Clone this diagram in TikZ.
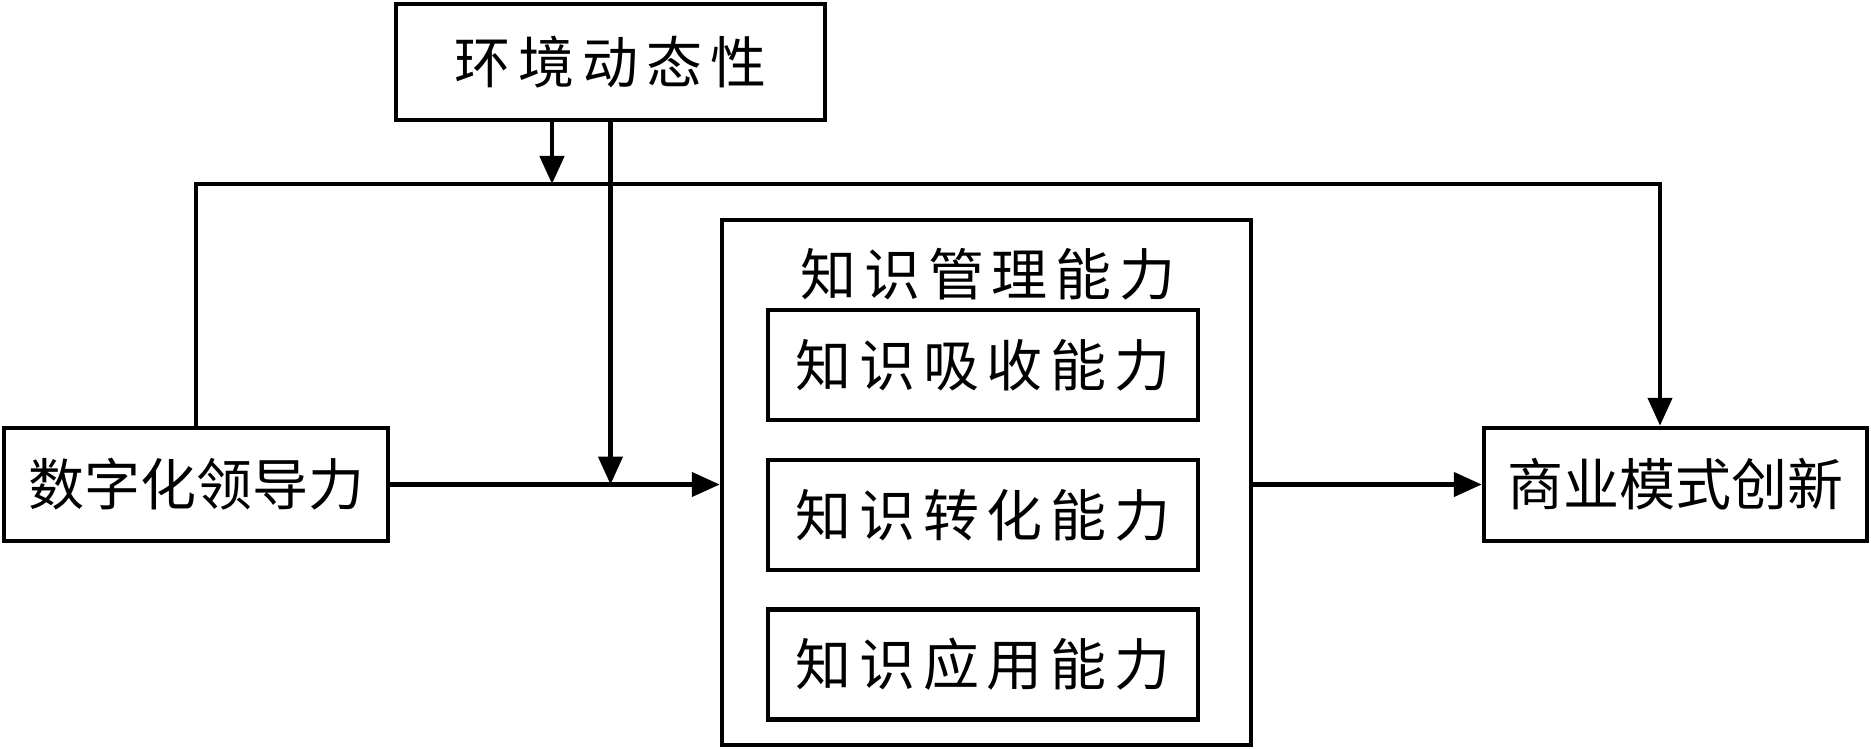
\documentclass[tikz,border=0pt]{standalone}
\usepackage{fontspec}
\newfontfamily\cjk{Noto Sans CJK SC}
\newfontfamily\cjkwide{Noto Sans CJK SC}[LetterSpace=14]
\usetikzlibrary{positioning}
\usetikzlibrary{arrows.meta}

\begin{document}
\begin{tikzpicture}
	[x=1pt,y=-1pt,
	box/.style={draw, line width=4.5pt, inner sep=0pt, minimum height=113pt, font=\cjk\fontsize{56}{62}\selectfont},
	wide/.style={box, font=\cjkwide\fontsize{56}{62}\selectfont},
	sub/.style={wide, minimum width=430pt, minimum height=110pt},
	link/.style={line width=4.5pt, -{Triangle[length=28pt,width=24pt]}}]

\useasboundingbox (0,0) rectangle (1871,749);

\node [wide, minimum width=429pt, minimum height=116pt] (env) at (610.5,62) {环境动态性};
\node [box, minimum width=384pt] (lead) at (196,484.5) {数字化领导力};
\node [box, minimum width=383pt] (biz) at (1675.5,484.5) {商业模式创新};

\node [draw, line width=4.5pt, minimum width=529pt, minimum height=525pt] (km) at (986.5,482.5) {};
\node [font=\cjkwide\fontsize{56}{62}\selectfont] (kmtitle) at (988,274) {知识管理能力};
\node [sub] (absorb) at (983,365) {知识吸收能力};
\node [sub] (trans) at (983,515) {知识转化能力};
\node [sub] (apply) at (983,664.5) {知识应用能力};

\coordinate (corner) at (1660,184);
\coordinate (modpt) at (552,184);

\draw [link] (lead.north) |- (corner) -- (corner |- biz.north);
\draw [link] (modpt |- env.south) -- (modpt);
\draw [link] (env.south) -- (env.south |- lead.east);
\draw [link] (lead.east) -- (km.west |- lead.east);
\draw [link] (km.east |- biz.west) -- (biz.west);

\end{tikzpicture}
\end{document}
